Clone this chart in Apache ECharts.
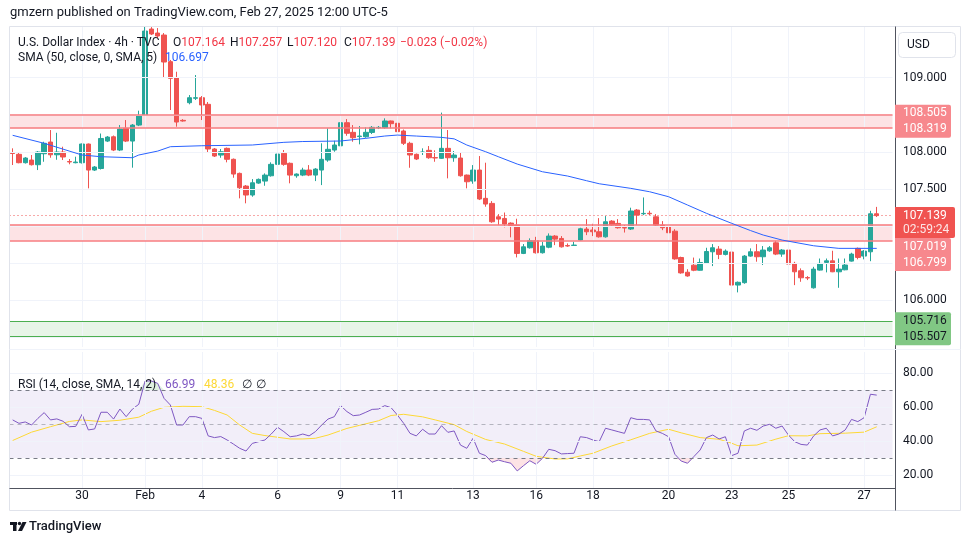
<!DOCTYPE html>
<html><head><meta charset="utf-8">
<script src="https://cdn.jsdelivr.net/npm/echarts@6/dist/echarts.min.js"></script>
<style>html,body{margin:0;padding:0;background:#fff;}#c{width:970px;height:545px;}</style>
</head><body><div id="c"></div>
<script>
// ---------- DATA ----------
const opens = [107.985,107.966,107.853,107.889,107.826,107.974,108.132,107.960,107.997,107.869,
107.853,107.853,108.105,107.754,107.775,108.145,108.203,108.024,108.317,108.145,
108.361,108.497,109.657,109.603,109.576,109.217,108.996,108.425,108.663,108.723,
108.730,108.641,108.038,107.956,108.047,107.899,107.709,107.538,107.417,107.578,
107.605,107.677,107.831,107.980,107.845,107.677,107.686,107.754,107.686,107.754,
107.889,108.024,108.081,108.393,108.263,108.206,108.204,108.262,108.324,108.326,
108.416,108.385,108.281,108.115,107.966,107.993,108.020,107.922,107.912,108.047,
107.920,107.916,107.686,107.605,107.754,107.372,107.304,107.123,107.101,107.038,
107.011,106.629,106.705,106.800,106.638,106.713,106.863,106.831,106.735,106.737,
106.810,106.957,106.945,106.921,106.853,107.065,107.034,106.978,106.958,107.214,
107.164,107.171,107.123,107.011,106.989,106.929,106.574,106.375,106.470,106.402,
106.497,106.651,106.687,106.616,106.647,106.202,106.234,106.593,106.651,106.584,
106.664,106.772,106.620,106.674,106.494,106.395,106.303,106.165,106.404,106.508,
106.529,106.381,106.408,106.525,106.697,106.593,106.651,107.164];
const closes = [107.978,107.853,107.916,107.826,107.997,108.115,107.960,107.997,107.930,107.863,
107.862,108.105,107.754,107.795,108.180,108.199,108.024,108.307,108.145,108.361,
108.487,109.630,109.590,109.563,109.212,108.992,108.402,108.416,108.730,108.730,
108.632,108.038,107.943,108.001,107.899,107.700,107.515,107.417,107.582,107.628,
107.686,107.831,107.970,107.831,107.686,107.700,107.754,107.686,107.767,107.899,
108.034,108.092,108.393,108.250,108.190,108.213,108.263,108.330,108.330,108.416,
108.380,108.272,108.115,107.957,107.903,107.997,107.920,107.917,108.047,107.920,
107.956,107.677,107.596,107.754,107.363,107.295,107.056,107.092,107.025,107.006,
106.629,106.718,106.800,106.638,106.728,106.863,106.822,106.718,106.729,106.741,
106.962,106.921,106.921,106.853,107.056,107.011,106.975,106.972,107.201,107.146,
107.169,107.164,107.011,106.975,106.908,106.555,106.366,106.325,106.402,106.506,
106.655,106.705,106.616,106.660,106.202,106.239,106.593,106.651,106.584,106.674,
106.705,106.620,106.674,106.485,106.381,106.300,106.297,106.417,106.494,106.529,
106.381,106.417,106.472,106.620,106.575,106.660,107.164,107.139];
const highs = [108.047,107.989,107.929,107.957,108.011,108.136,108.294,108.257,108.069,107.903,
107.934,108.112,108.112,107.808,108.247,108.213,108.220,108.361,108.429,108.375,
108.555,109.688,109.683,109.670,109.603,109.240,109.081,108.441,108.766,109.036,
108.753,108.672,108.051,108.038,108.058,107.910,107.720,107.552,107.632,107.640,
107.709,107.858,108.047,108.024,107.856,107.709,107.785,107.821,107.780,108.115,
108.317,108.150,108.415,108.442,108.361,108.348,108.330,108.348,108.348,108.452,
108.422,108.402,108.301,108.136,107.977,108.047,108.078,108.020,108.529,108.294,
108.011,107.993,107.693,107.821,107.943,107.853,107.335,107.159,107.181,107.048,
107.097,106.755,106.832,106.853,106.786,106.899,106.876,106.863,106.764,106.786,
106.975,107.092,107.029,107.105,107.133,107.078,107.092,107.011,107.246,107.228,
107.384,107.205,107.159,107.065,107.000,106.956,106.585,106.416,106.573,106.560,
106.705,106.755,106.728,106.683,106.660,106.250,106.607,106.697,106.755,106.728,
106.728,106.799,106.688,106.688,106.516,106.427,106.323,106.448,106.560,106.560,
106.665,106.560,106.560,106.638,106.708,106.674,107.204,107.257];
const lows = [107.822,107.845,107.842,107.815,107.754,107.866,107.920,107.893,107.889,107.832,
107.845,107.842,107.507,107.741,107.761,108.132,108.010,108.010,108.132,107.786,
108.347,108.484,109.576,109.536,108.996,108.564,108.339,108.407,108.641,108.699,
108.429,107.989,107.930,107.920,107.858,107.650,107.372,107.305,107.394,107.568,
107.542,107.665,107.817,107.812,107.575,107.650,107.672,107.672,107.605,107.551,
107.866,108.001,108.070,108.217,108.136,108.101,108.190,108.240,108.307,108.313,
108.317,108.227,108.092,107.785,107.889,107.957,107.906,107.866,107.903,107.642,
107.866,107.665,107.507,107.569,107.349,107.259,107.042,107.011,106.980,106.846,
106.575,106.620,106.694,106.627,106.627,106.699,106.741,106.708,106.718,106.730,
106.803,106.876,106.863,106.842,106.842,106.997,106.964,106.911,106.945,107.011,
107.146,107.146,106.997,106.943,106.845,106.544,106.355,106.314,106.389,106.397,
106.486,106.458,106.552,106.602,106.188,106.103,106.220,106.584,106.517,106.472,
106.651,106.606,106.583,106.478,106.201,106.246,106.269,106.154,106.397,106.373,
106.376,106.165,106.401,106.518,106.549,106.549,106.524,107.120];
// SMA(50) read at sample bars
const smaIdx = [0,5,11,14,19,20,23,25,30,38,43,46,52,56,59,61,64,68,70,72,75,77,80,84,88,91,93,98,101,104,107,110,114,117,119,122,127,131,134,137];
const smaVal = [108.223,108.115,107.957,107.934,107.920,107.957,108.010,108.069,108.082,108.092,108.128,108.139,108.146,108.182,108.213,108.226,108.213,108.195,108.175,108.092,108.001,107.934,107.835,107.731,107.673,107.610,107.569,107.507,107.461,107.394,107.282,107.170,107.035,106.937,106.877,106.809,106.732,106.697,106.697,106.697];
// RSI(14) per bar
const rsi = [52.4,50.4,51.2,49.4,53.3,56.7,52.4,53,51.6,48.4,48.6,55.7,46.5,47.1,56.9,56.9,52.9,58.8,54.3,58.8,
61.6,75.3,75.3,73.9,65.1,61.2,49.4,49.4,54.3,54.3,53.3,43,42,42.6,40.6,38.2,35.7,34.1,38.6,39.6,
40.6,44.1,48.1,45.5,42.5,43,44.1,43,45.5,49.4,52.9,54.3,60.8,57.3,54.9,55.3,56.9,58.6,58.8,60.8,
59.6,55.3,50.4,44.5,43,46.9,44.1,44.1,49,45.1,45.9,37.6,35.7,41.6,32.8,31.4,27.5,28.8,27.8,26.9,
22.4,25.5,28.4,26.3,29.8,35.1,34.3,32.4,32.6,32.8,42.5,42,40.6,39.6,47.5,46.5,45.5,44.5,53.7,52.7,
52.7,52.4,45.9,44.5,42.5,32.2,28.2,26.9,30.8,34.7,42,43.5,41.2,42.5,31.4,32.8,45.9,47.5,46.3,48.8,
49.8,47.5,48.8,43.5,39.6,38,37.6,43,46.5,47.5,43,44.1,46.5,52.7,51.4,53.7,67.5,66.99];
// RSI smoothing (SMA 14) read at sample bars
const rsiSmaIdx = [0,3,6,9,11,14,17,20,22,24,27,30,32,34,36,38,40,44,46,48,50,53,55,58,60,62,65,67,70,72,75,78,81,83,86,88,90,92,95,98,101,104,106,109,112,114,115,118,121,123,126,128,132,135,137];
const rsiSmaVal = [40.3,45.2,48.4,51.5,52.4,51.4,52.2,54,57.5,59.8,60.4,60.2,58,55.3,49.4,44.5,43.2,41.2,41.2,41.6,43.5,47.4,49.2,51.9,55.0,55.7,54.2,52.4,49.6,45.6,40.9,38.2,33.9,31.0,29.4,29.5,31.2,32.8,37.1,40.7,44.5,46.9,44.8,42,41.0,38.7,37.2,37.6,41.1,43.1,43,44.3,44.6,45.2,48.36];
const dateTickIdx = [11,21,30,42,52,61,73,83,92,104,114,123,135];
const dateTickText = ['30','Feb','4','6','9','11','13','16','18','20','23','25','27'];
const priceTicks = [105.5,106,106.5,107,107.5,108,108.5,109];
const rsiTicks = [20,40,60,80];
const rsiLevels = [70,50,30];
const redZones = [[108.319,108.505],[106.799,107.019]];
const greenZone = [105.507,105.716];
const lastO = 107.164, lastH = 107.257, lastL = 107.120, lastC = 107.139, chg = -0.023, chgPct = -0.02;
const smaLast = 106.697, rsiLast = 66.99, rsiSmaLast = 48.36;
const countdown = '02:59:24';

// ---------- LAYOUT ----------
const FONT = 'Roboto, "Noto Sans", sans-serif';
const GL = 9.5, GW = 883;
const T0 = 26, H0 = 321;
const T1 = 352, H1 = 136;
const N = opens.length, EXTRA = 2;
const cats = Array.from({length: N + EXTRA}, (_, i) => String(i));
const candles = opens.map((o, i) => [o, closes[i], lows[i], highs[i]]);
const smaData = smaIdx.map((x, k) => [x, smaVal[k]]);
const rsiSmaData = rsiSmaIdx.map((x, k) => [x, rsiSmaVal[k]]);
const rsiHi = rsi.map(v => Math.max(v, 70));
const rsiLo = rsi.map(v => Math.min(v, 30));

const chart = echarts.init(document.getElementById('c'));
const ml = (data, color, type, width) => ({silent: true, symbol: ['none','none'], animation: false,
  label: {show: false}, lineStyle: {color: color, type: type || 'solid', width: width || 1}, data: data});
const vLines = dateTickIdx.map(i => ({xAxis: i}));

chart.setOption({
  animation: false,
  grid: [
    {left: GL, top: T0, width: GW, height: H0},
    {left: GL, top: T1, width: GW, height: H1}
  ],
  xAxis: [
    {type: 'category', gridIndex: 0, data: cats, boundaryGap: true, axisLine: {show: false}, axisTick: {show: false}, axisLabel: {show: false}, splitLine: {show: false}},
    {type: 'category', gridIndex: 1, data: cats, boundaryGap: true, axisLine: {show: false}, axisTick: {show: false}, splitLine: {show: false},
      axisLabel: {show: true, interval: (i) => dateTickIdx.indexOf(i) >= 0, formatter: (v, i) => dateTickText[dateTickIdx.indexOf(i)] || '',
        color: '#131722', fontSize: 12, fontFamily: FONT, margin: 2}}
  ],
  yAxis: [
    {type: 'value', gridIndex: 0, min: 105.366, max: 109.698, show: false, splitLine: {show: false}},
    {type: 'value', gridIndex: 1, min: 12.35, max: 92.35, show: false, splitLine: {show: false}}
  ],
  series: [
    {type: 'line', xAxisIndex: 0, yAxisIndex: 0, data: closes, silent: true, symbol: 'none', lineStyle: {opacity: 0}, z: 1,
      markLine: ml(vLines.concat(priceTicks.map(v => ({yAxis: v}))), '#f0f3fa')},
    {type: 'line', xAxisIndex: 0, yAxisIndex: 0, data: closes, silent: true, symbol: 'none', lineStyle: {opacity: 0}, z: 2,
      markArea: {silent: true, data: redZones.map(z => [{yAxis: z[0], itemStyle: {color: 'rgba(242,54,69,0.14)'}}, {yAxis: z[1]}])
        .concat([[{yAxis: greenZone[0], itemStyle: {color: 'rgba(76,175,80,0.13)'}}, {yAxis: greenZone[1]}]])},
      markLine: {silent: true, symbol: ['none','none'], label: {show: false}, animation: false,
        data: redZones.flat().map(v => ({yAxis: v, lineStyle: {color: '#f77c80', width: 1.5, type: 'solid'}}))
          .concat(greenZone.map(v => ({yAxis: v, lineStyle: {color: '#4caf50', width: 1, type: 'solid'}})))}},
    {type: 'candlestick', xAxisIndex: 0, yAxisIndex: 0, data: candles, barWidth: 5, z: 3,
      itemStyle: {color: '#26a69a', color0: '#ef5350', borderColor: '#26a69a', borderColor0: '#ef5350', borderWidth: 1}},
    {type: 'line', xAxisIndex: 0, yAxisIndex: 0, data: closes, silent: true, symbol: 'none', lineStyle: {opacity: 0}, z: 4,
      markLine: ml([{yAxis: lastC}], '#ef5350', [1, 3], 1)},
    {type: 'line', xAxisIndex: 0, yAxisIndex: 0, data: smaData, symbol: 'none', z: 5, lineStyle: {color: '#2962ff', width: 1}},
    // RSI pane
    {type: 'line', xAxisIndex: 1, yAxisIndex: 1, data: rsi, silent: true, symbol: 'none', lineStyle: {opacity: 0}, z: 1,
      markArea: {silent: true, data: [[{yAxis: 30, itemStyle: {color: 'rgba(126,87,194,0.1)'}}, {yAxis: 70}]]},
      markLine: ml(vLines.concat(rsiTicks.map(v => ({yAxis: v}))), '#f0f3fa')},
    {type: 'line', xAxisIndex: 1, yAxisIndex: 1, data: rsi, silent: true, symbol: 'none', lineStyle: {opacity: 0}, z: 2,
      markLine: {silent: true, symbol: ['none','none'], label: {show: false}, animation: false,
        data: rsiLevels.map(v => ({yAxis: v, lineStyle: {color: v === 50 ? 'rgba(120,123,134,0.5)' : '#787b86', type: [4, 4], width: 1}}))}},
    {type: 'line', xAxisIndex: 1, yAxisIndex: 1, data: rsiHi, silent: true, symbol: 'none', lineStyle: {width: 0}, z: 2,
      areaStyle: {origin: 70, color: 'rgba(76,175,80,0.25)'}},
    {type: 'line', xAxisIndex: 1, yAxisIndex: 1, data: rsiLo, silent: true, symbol: 'none', lineStyle: {width: 0}, z: 2,
      areaStyle: {origin: 30, color: 'rgba(242,54,69,0.2)'}},
    {type: 'line', xAxisIndex: 1, yAxisIndex: 1, data: rsiSmaData, symbol: 'none', z: 3, lineStyle: {color: '#fdd835', width: 1}},
    {type: 'line', xAxisIndex: 1, yAxisIndex: 1, data: rsi, symbol: 'none', z: 4, lineStyle: {color: '#7e57c2', width: 1}}
  ]
});

// ---------- overlay texts, axis labels, frame ----------
const py = v => chart.convertToPixel({yAxisIndex: 0}, v);
const ry = v => chart.convertToPixel({yAxisIndex: 1}, v);
const g = [];
const txt = (x, y, s, fill, size, extra) => g.push(Object.assign({type: 'text', x: x, y: y, z: 20,
  style: {text: s, fill: fill, font: (size || 12) + 'px ' + FONT, verticalAlign: 'middle', align: 'left'}}, extra || {}));
const line = (x1, y1, x2, y2, c, z) => g.push({type: 'line', z: z || 15, shape: {x1, y1, x2, y2}, style: {stroke: c, lineWidth: 1}});

// frame
line(9.5, 26.5, 960.5, 26.5, '#e0e3eb');
line(9.5, 26.5, 9.5, 510.5, '#e0e3eb');
line(960.5, 26.5, 960.5, 510.5, '#e0e3eb');
line(9.5, 510.5, 960.5, 510.5, '#e0e3eb');
line(895.5, 26.5, 895.5, 510.5, '#50535e');
line(9.5, 488.5, 895.5, 488.5, '#50535e');
line(9.5, 349.5, 960.5, 349.5, '#f0f3fa');

// price axis labels
priceTicks.forEach(v => txt(903, py(v), v.toFixed(3), '#131722', 12));
rsiTicks.forEach(v => txt(903, ry(v), v.toFixed(2), '#131722', 12));

// USD box
g.push({type: 'rect', z: 20, shape: {x: 898.5, y: 32.5, width: 57, height: 25, r: 4}, style: {fill: '#fff', stroke: '#e0e3eb'}});
txt(907, 45, 'USD', '#131722', 12);

// price label boxes
const box = (top, h, w, fill) => g.push({type: 'rect', z: 21, shape: {x: 895, y: top, width: w, height: h, r: [0, 2, 2, 0]}, style: {fill: fill}});
const cTop = py(lastC) - 8.5;
box(cTop, 31, 60, '#f05350');
txt(903, cTop + 8.5, lastC.toFixed(3), '#ffffff', 12, {z: 22});
txt(903, cTop + 23, countdown, 'rgba(255,255,255,0.85)', 12, {z: 22});
const zoneBox = (z, fill, tcol, minTop) => {
  let top = (py(z[0]) + py(z[1])) / 2 - 16.5;
  if (minTop !== undefined && top < minTop) top = minTop;
  box(top, 33, 56, fill);
  txt(903, top + 8.5, z[1].toFixed(3), tcol, 12, {z: 22});
  txt(903, top + 24.5, z[0].toFixed(3), tcol, 12, {z: 22});
};
zoneBox(redZones[0], '#f7888d', '#ffffff');
zoneBox(redZones[1], '#f7888d', '#ffffff', cTop + 31);
zoneBox(greenZone, '#81c784', '#131722');

// headings
txt(10, 13, 'gmzern published on TradingView.com, Feb 27, 2025 12:00 UTC-5', '#131722', 13);
const grey = '#131722', red = '#f23645';
txt(18, 43, 'U.S. Dollar Index · 4h · TVC', grey, 12);
[['O', lastO, 173], ['H', lastH, 230], ['L', lastL, 287], ['C', lastC, 344]].forEach(a => {
  g.push({type: 'text', x: a[2], y: 43, z: 20, style: {text: '{k|' + a[0] + '}{v|' + a[1].toFixed(3) + '}', verticalAlign: 'middle', font: '12px ' + FONT,
    rich: {k: {fill: grey, font: '12px ' + FONT}, v: {fill: red, font: '12px ' + FONT}}}});
});
txt(400, 43, '−' + Math.abs(chg).toFixed(3) + ' (−' + Math.abs(chgPct).toFixed(2) + '%)', red, 12);
txt(18, 58, 'SMA (50, close, 0, SMA, 5)', grey, 12);
txt(165, 58, smaLast.toFixed(3), '#2962ff', 12);
txt(18, 385, 'RSI (14, close, SMA, 14, 2)', grey, 12);
txt(165, 385, rsiLast.toFixed(2), '#7e57c2', 12);
txt(204, 385, rsiSmaLast.toFixed(2), '#fdd835', 12);
txt(242, 385, '∅', grey, 12);
txt(256, 385, '∅', grey, 12);

// TradingView logo
g.push({type: 'rect', z: 20, shape: {x: 10, y: 522, width: 7, height: 3}, style: {fill: '#131722'}});
g.push({type: 'rect', z: 20, shape: {x: 13, y: 522, width: 3.5, height: 9}, style: {fill: '#131722'}});
g.push({type: 'circle', z: 20, shape: {cx: 19.5, cy: 523.5, r: 1.7}, style: {fill: '#131722'}});
g.push({type: 'polygon', z: 20, shape: {points: [[22.5, 522], [26.5, 522], [22, 531], [18, 531]]}, style: {fill: '#131722'}});
g.push({type: 'text', x: 29, y: 527, z: 20, style: {text: 'TradingView', fill: '#131722', font: '500 13px ' + FONT, verticalAlign: 'middle'}});

chart.setOption({graphic: g});
</script></body></html>
